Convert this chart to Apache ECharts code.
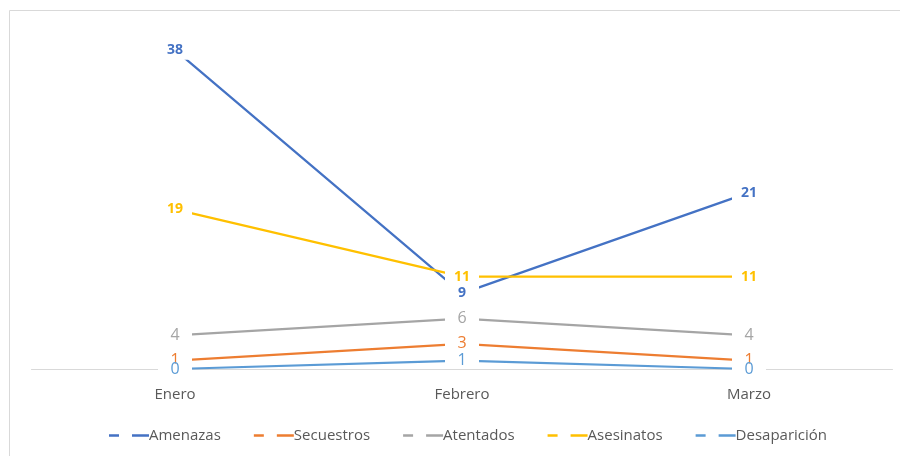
<!DOCTYPE html>
<html>
<head>
<meta charset="utf-8">
<script src="https://cdn.jsdelivr.net/npm/echarts@6/dist/echarts.min.js"></script>
<style>
  html, body { margin: 0; padding: 0; background: #fff; }
  #chart { width: 900px; height: 456px; }
</style>
</head>
<body>
<div id="chart"></div>
<script>
const months = ["Enero", "Febrero", "Marzo"];
const amenazas = [38, 9, 21];
const secuestros = [1, 3, 1];
const atentados = [4, 6, 4];
const asesinatos = [19, 11, 11];
const desaparicion = [0, 1, 0];

const chart = echarts.init(document.getElementById("chart"));

const dashIcon = "path://M0,0h10v2.5h-10z M23,0h17v2.5h-17z";

function makeSeries(name, data, color, bold, tight) {
  return {
    name: name,
    type: "line",
    data: data,
    symbol: "circle",
    symbolSize: 0.1,
    showSymbol: true,
    lineStyle: { color: color, width: 2.25 },
    itemStyle: { color: color },
    emphasis: { disabled: true },
    label: {
      show: true,
      position: "inside",
      color: color,
      fontFamily: "Open Sans",
      fontSize: bold ? 14 : 16,
      fontWeight: bold ? "bold" : "normal",
      backgroundColor: "#fff",
      width: 26,
      align: "center",
      verticalAlign: "middle",
      padding: tight ? [0, 4] : [2, 4],
      lineHeight: tight ? 11 : 16,
    },
  };
}

const option = {
  animation: false,
  graphic: [
    {
      type: "line",
      shape: { x1: 9.5, y1: 10.5, x2: 900, y2: 10.5 },
      style: { stroke: "#d9d9d9", lineWidth: 1 },
      silent: true,
    },
    {
      type: "line",
      shape: { x1: 9.5, y1: 10.5, x2: 9.5, y2: 456 },
      style: { stroke: "#d9d9d9", lineWidth: 1 },
      silent: true,
    },
  ],
  grid: { left: 31.5, right: 7.5, top: 33, bottom: 87 },
  legend: {
    bottom: 8,
    left: 104,
    icon: dashIcon,
    itemWidth: 40,
    itemHeight: 2.5,
    itemGap: 33,
    textStyle: { color: "#595959", fontSize: 15, fontFamily: "Open Sans", padding: [0, 0, 0, -5] },
    data: ["Amenazas", "Secuestros", "Atentados", "Asesinatos", "Desaparición"],
  },
  xAxis: {
    type: "category",
    data: months,
    boundaryGap: true,
    axisLine: { lineStyle: { color: "#d9d9d9", width: 1 } },
    axisTick: { show: false },
    axisLabel: { color: "#595959", fontSize: 15, fontFamily: "Open Sans", margin: 18 },
  },
  yAxis: {
    type: "value",
    min: 0,
    max: 40,
    interval: 5,
    show: false,
    splitLine: { show: false },
  },
  series: [
    makeSeries("Amenazas", amenazas, "#4472C4", true, false),
    makeSeries("Secuestros", secuestros, "#ED7D31", false, false),
    makeSeries("Atentados", atentados, "#A5A5A5", false, false),
    makeSeries("Asesinatos", asesinatos, "#FFC000", true, false),
    makeSeries("Desaparición", desaparicion, "#5B9BD5", false, true),
  ],
};

chart.setOption(option);
</script>
</body>
</html>
